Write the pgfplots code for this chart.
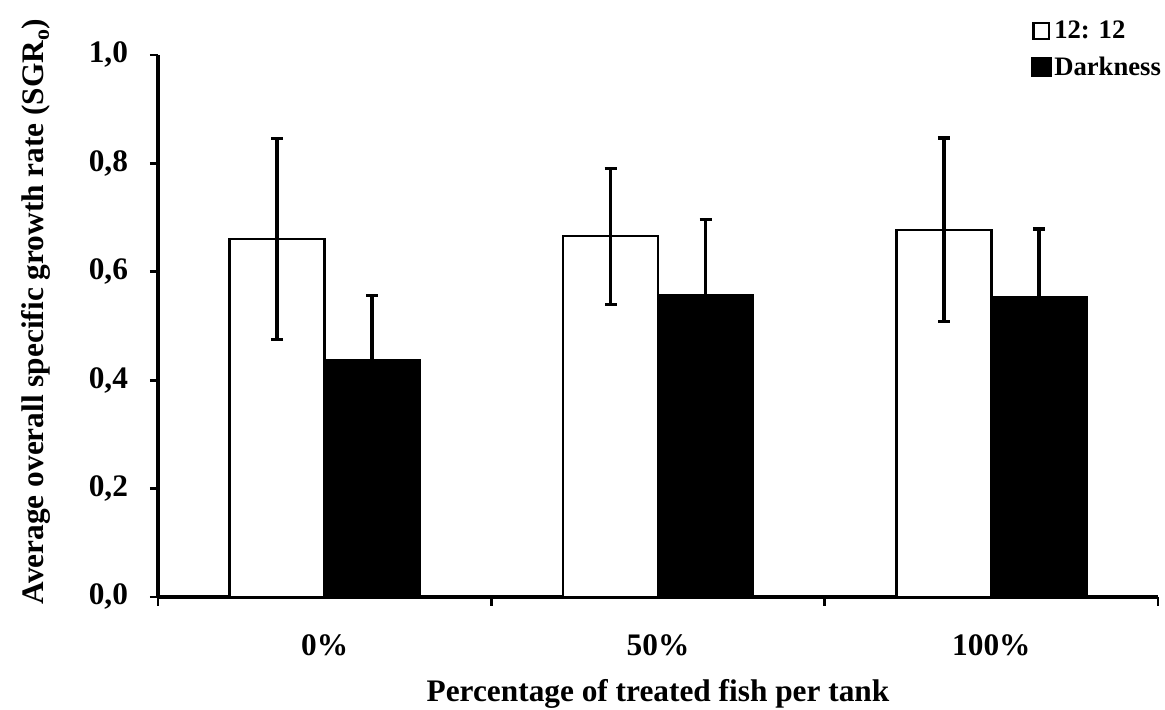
\documentclass[border=0pt]{standalone}
\usepackage{fontspec}
\setmainfont{Liberation Serif}
\usepackage{pgfplots}
\pgfplotsset{compat=1.18}

\newcommand{\lblfont}{\fontsize{23.5}{28}\selectfont\bfseries}
\newcommand{\legfont}{\fontsize{20}{24}\selectfont\bfseries}

\begin{document}
\begin{tikzpicture}
\begin{axis}[
    scale only axis,
    width=750pt, height=406.5pt,
    xmin=-0.5, xmax=2.5, ymin=0, ymax=1,
    axis x line*=bottom, axis y line*=left,
    axis line style={line width=3pt},
    ybar=0pt, bar width=71.25pt,
    xtick={0,1,2}, xticklabels={0\%,50\%,100\%},
    xtick style={draw=none},
    ytick={0,0.2,0.4,0.6,0.8,1.0},
    ytick style={line width=2pt, black},
    tick align=outside, major tick length=6pt,
    yticklabel style={xshift=-13pt, /pgf/number format/.cd, fixed, fixed zerofill, precision=1, use comma, assume math mode=true},
    xticklabel style={yshift=-19pt},
    tick label style={font=\lblfont},
    xlabel={Percentage of treated fish per tank},
    ylabel={Average overall specific growth rate (SGR\textsubscript{o})},
    xlabel style={at={(axis description cs:0.5,-0.192)}, anchor=base, font=\lblfont},
    ylabel style={at={(axis description cs:-0.114,0.527)}, anchor=base, font=\lblfont},
    legend style={at={(axis description cs:0.873,1.068)}, anchor=north west, draw=none, fill=none,
        font=\legfont, inner sep=0pt, row sep=8pt},
    legend cell align=left,
    clip=false,
    ]
    % 12:12 light regime
    \addplot[draw=black, fill=white, line width=1.75pt,
        legend image code/.code={\draw[draw=black, fill=white, line width=1.6pt] (0.8pt,-5.95pt) rectangle (12.7pt,5.95pt);},
        error bars/.cd, y dir=both, y explicit,
        error bar style={line width=2.5pt, black},
        error mark options={rotate=90, mark size=4.5pt, line width=2.5pt, black}]
        coordinates {
        (0,0.6605) +- (0,0.1855)
        (1,0.6655) +- (0,0.1255)
        (2,0.6775) +- (0,0.1695)
        };
    \addlegendentry{12: 12}
    % darkness
    \addplot[draw=black, fill=black, line width=1.75pt,
        legend image code/.code={\fill[black] (0pt,-6.75pt) rectangle (13.5pt,6.75pt);},
        error bars/.cd, y dir=both, y explicit,
        error bar style={line width=2.5pt, black},
        error mark options={rotate=90, mark size=4.5pt, line width=2.5pt, black}]
        coordinates {
        (0,0.437) +- (0,0.119)
        (1,0.556) +- (0,0.141)
        (2,0.554) +- (0,0.125)
        };
    \addlegendentry{Darkness}
    % category separators on the x axis
    \pgfplotsinvokeforeach{-0.5,0.5,1.5,2.5}{
        \draw[line width=2pt] (axis cs:#1,0) -- ++(0pt,-7pt);
    }
\end{axis}
\pgfresetboundingbox
\path (-118.5pt,-84.75pt) rectangle (755.25pt,447.75pt);
\end{tikzpicture}
\end{document}
